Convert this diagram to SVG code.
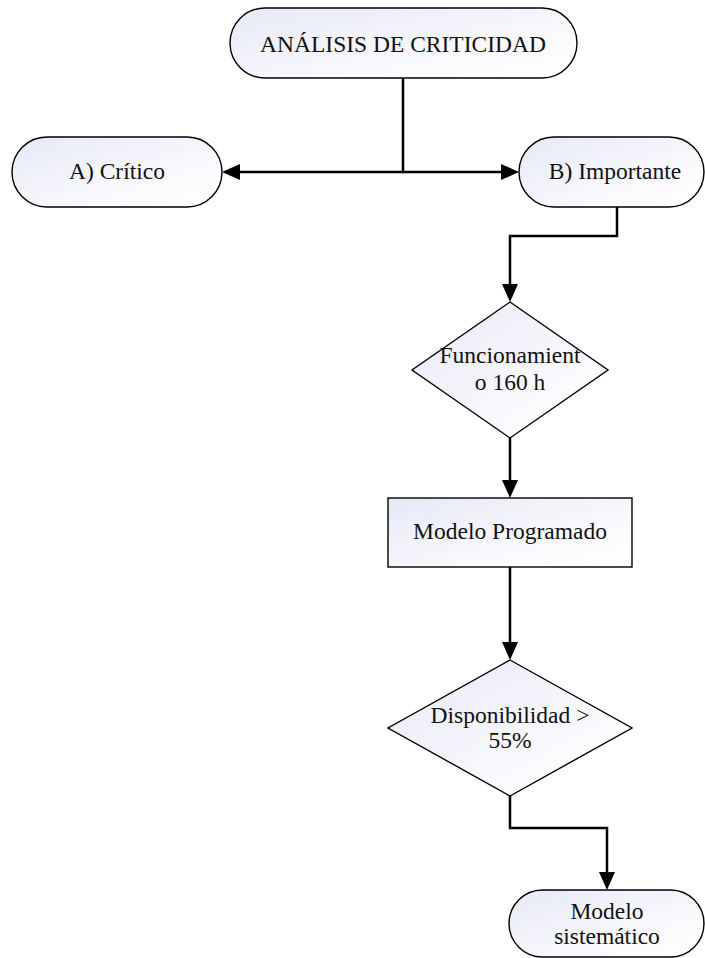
<svg xmlns="http://www.w3.org/2000/svg" width="705" height="958" viewBox="0 0 705 958">
<style>
.shape{fill:url(#g);stroke:#000;stroke-width:1.4}
.conn{fill:none;stroke:#000;stroke-width:2.5}
text{font-family:"Liberation Serif","Times New Roman",serif;font-size:23.5px;fill:#111;text-anchor:middle}
</style>
<defs>
<linearGradient id="g" x1="0" y1="0" x2="1" y2="1">
<stop offset="0" stop-color="#e6e8f5"/>
<stop offset="0.7" stop-color="#fbfbfe"/>
<stop offset="1" stop-color="#ffffff"/>
</linearGradient>
<marker id="ah" viewBox="0 0 18 16" refX="0" refY="8" markerWidth="18" markerHeight="16" markerUnits="userSpaceOnUse" orient="auto">
<path d="M0,0 L18,8 L0,16 Z" fill="#000"/>
</marker>
</defs>
<g id="connectors">
<path class="conn" d="M403,78 V172"/>
<path class="conn" d="M404,172 H240" marker-end="url(#ah)"/>
<path class="conn" d="M402,172 H501" marker-end="url(#ah)"/>
<path class="conn" d="M617,207 V236 H510 V284" marker-end="url(#ah)"/>
<path class="conn" d="M510,438 V480" marker-end="url(#ah)"/>
<path class="conn" d="M510,567 V642" marker-end="url(#ah)"/>
<path class="conn" d="M510,796 V828 H607 V872" marker-end="url(#ah)"/>
</g>
<g id="analisis">
<rect class="shape" x="230" y="8" width="347" height="70" rx="35" ry="35"/>
<text x="403" y="52">ANÁLISIS DE CRITICIDAD</text>
</g>
<g id="critico">
<rect class="shape" x="12" y="137" width="210" height="70" rx="35" ry="35"/>
<text x="117" y="179">A) Crítico</text>
</g>
<g id="importante">
<rect class="shape" x="519" y="137" width="185" height="70" rx="35" ry="35"/>
<text x="615" y="179">B) Importante</text>
</g>
<g id="funcionamiento">
<polygon class="shape" points="510,302 608,370 510,438 412,370"/>
<text x="510" y="363">Funcionamient</text>
<text x="510" y="390">o 160 h</text>
</g>
<g id="programado">
<rect class="shape" x="388" y="498" width="244" height="69"/>
<text x="510" y="539">Modelo Programado</text>
</g>
<g id="disponibilidad">
<polygon class="shape" points="510,660 632,728 510,796 388,728"/>
<text x="510" y="723">Disponibilidad &gt;</text>
<text x="510" y="748">55%</text>
</g>
<g id="sistematico">
<rect class="shape" x="509" y="890" width="195" height="67" rx="33.5" ry="33.5"/>
<text x="607" y="919">Modelo</text>
<text x="607" y="944">sistemático</text>
</g>
</svg>
